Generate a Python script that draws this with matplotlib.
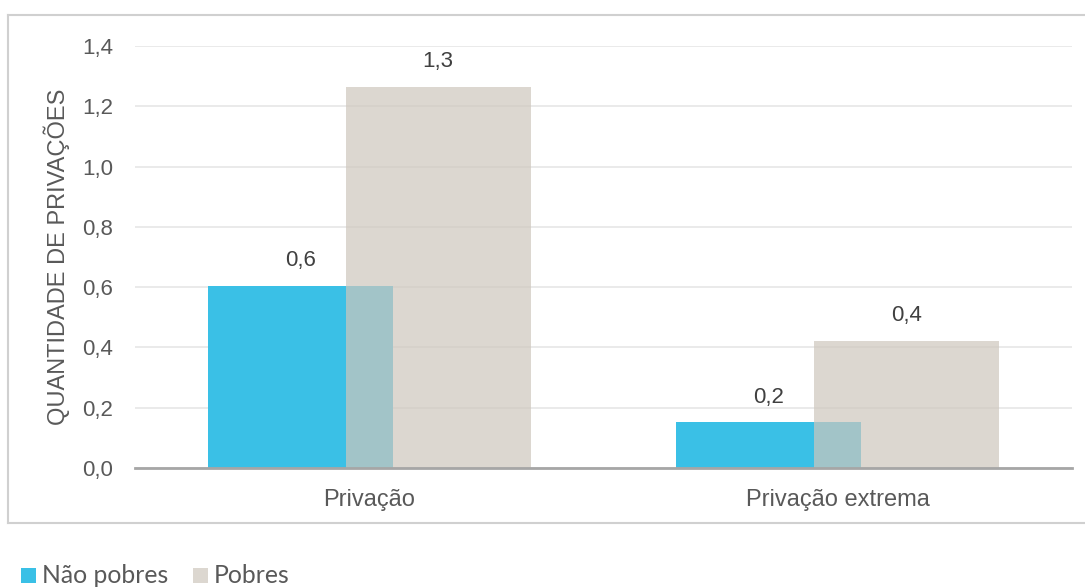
import matplotlib
matplotlib.use("Agg")
import matplotlib.pyplot as plt
from matplotlib.lines import Line2D
from matplotlib.patches import Rectangle
import numpy as np

# ---- data ----
categories = ["Privação", "Privação extrema"]
series_names = ["Não pobres", "Pobres"]
nao_pobres = [0.604, 0.152]
pobres = [1.264, 0.422]
value_labels_nao = ["0,6", "0,2"]
value_labels_pob = ["1,3", "0,4"]
yticks = [0.0, 0.2, 0.4, 0.6, 0.8, 1.0, 1.2, 1.4]
ytick_labels = ["0,0", "0,2", "0,4", "0,6", "0,8", "1,0", "1,2", "1,4"]
ylabel = "QUANTIDADE DE PRIVAÇÕES"

# ---- style ----
W, H = 1085, 587
c_nao = "#3AC0E6"
c_pob = (206/255, 199/255, 189/255, 0.71)
c_pob_legend = "#DCD7D0"
txt_tick = "#595959"
txt_lab = "#404040"

plt.rcParams['font.family'] = ['Liberation Sans', 'DejaVu Sans']

fig = plt.figure(figsize=(W/100, H/100), dpi=100)
ax = fig.add_axes([135/W, 1-468/H, (1072-135)/W, (468-46)/H])

x = np.arange(len(categories))
bw = 0.395
off = 0.147

ax.bar(x - off, nao_pobres, width=bw, color=c_nao, zorder=2, linewidth=0)
ax.bar(x + off, pobres, width=bw, color=c_pob, zorder=3, linewidth=0)

for xi, v, t in zip(x - off, nao_pobres, value_labels_nao):
    ax.annotate(t, (xi, v), xytext=(0, 10.5), textcoords="offset points",
                ha="center", va="bottom", fontsize=16, color=txt_lab)
for xi, v, t in zip(x + off, pobres, value_labels_pob):
    ax.annotate(t, (xi, v), xytext=(0, 10.5), textcoords="offset points",
                ha="center", va="bottom", fontsize=16, color=txt_lab)

ax.set_xlim(-0.5, len(categories) - 0.5)
ax.set_ylim(0, 1.4)
ax.set_yticks(yticks)
ax.set_yticklabels(ytick_labels)
ax.set_xticks(x)
ax.set_xticklabels(categories)
ax.tick_params(axis='y', length=0, pad=16, labelsize=16, labelcolor=txt_tick)
ax.tick_params(axis='x', length=0, pad=15, labelsize=17, labelcolor=txt_tick)

ax.yaxis.grid(True, color="#E6E6E6", linewidth=1.2, zorder=0)
ax.set_axisbelow(True)
for s in ["top", "right", "left"]:
    ax.spines[s].set_visible(False)
ax.spines["bottom"].set_color("#A6A6A6")
ax.spines["bottom"].set_linewidth(2.0)
ax.spines["bottom"].set_zorder(4)

ax.set_ylabel(ylabel, fontsize=17, color=txt_tick)
ax.yaxis.set_label_coords(-(135-70)/(1072-135), 0.5)

# outer border (right side cut off in reference)
bc = "#D0D0D0"
fig.add_artist(Line2D([8/W, 8/W], [1-15/H, 1-523/H], color=bc, lw=1.5, transform=fig.transFigure))
fig.add_artist(Line2D([8/W, 1], [1-15/H, 1-15/H], color=bc, lw=1.5, transform=fig.transFigure))
fig.add_artist(Line2D([8/W, 1], [1-523/H, 1-523/H], color=bc, lw=1.5, transform=fig.transFigure))

# legend (manual)
leg_colors = [c_nao, c_pob_legend]
leg_x = [21, 193]
for name, col, lx in zip(series_names, leg_colors, leg_x):
    fig.add_artist(Rectangle((lx/W, 1-583/H), 15/W, 15/H, color=col,
                             transform=fig.transFigure, linewidth=0))
    fig.text((lx+21)/W, 1-575.5/H, name, fontsize=17.8, color=txt_tick,
             ha="left", va="center", family=["Lato", "DejaVu Sans"])

fig.savefig("out.png", dpi=100, facecolor="white")
